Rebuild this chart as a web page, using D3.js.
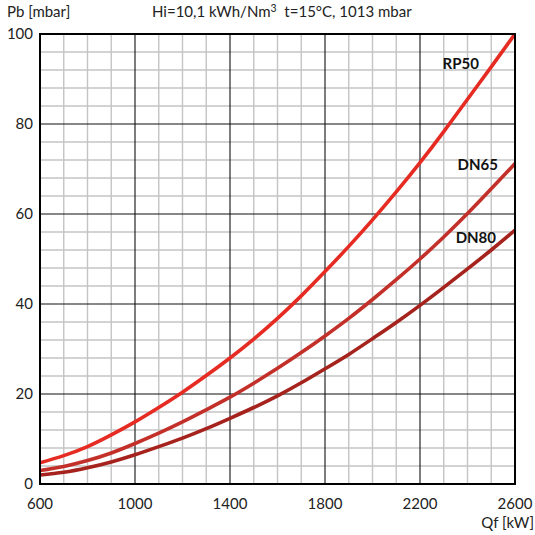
<!DOCTYPE html>
<html>
<head>
<meta charset="utf-8">
<script src="https://cdn.jsdelivr.net/npm/d3@7"></script>
<style>
  html, body { margin: 0; padding: 0; background: #fff; }
  svg { display: block; font-family: "Lato", "Open Sans", sans-serif; }
</style>
</head>
<body>
<svg id="chart" width="535" height="535"></svg>
<script>
// ---- data ----
const qf = [600, 700, 800, 900, 1000, 1100, 1200, 1300, 1400, 1500, 1600,
            1700, 1800, 1900, 2000, 2100, 2200, 2300, 2400, 2500, 2600];
const rp50 = [4.7, 6.3, 8.3, 10.9, 13.8, 17.0, 20.4, 24.1, 28.0, 32.2, 36.8,
              41.8, 47.2, 52.8, 58.7, 64.9, 71.4, 78.3, 85.5, 92.7, 100];
const dn65 = [3.0, 3.9, 5.2, 6.9, 9.0, 11.3, 13.8, 16.5, 19.3, 22.4, 25.7,
              29.2, 32.9, 36.8, 41.0, 45.4, 50.0, 54.9, 60.1, 65.6, 71.2];
const dn80 = [2.0, 2.6, 3.6, 4.9, 6.5, 8.3, 10.2, 12.3, 14.6, 17.0, 19.6,
              22.5, 25.6, 28.8, 32.3, 35.9, 39.7, 43.7, 47.8, 52.0, 56.4];

// label anchor: right end of text [Qf, Pb of baseline]
const series = [
  { name: "RP50", values: rp50, color: "#e52b22", label: [2448, 92.2] },
  { name: "DN65", values: dn65, color: "#c3302a", label: [2528, 69.8] },
  { name: "DN80", values: dn80, color: "#a5231c", label: [2520, 53.6] }
];

const xTicks = [600, 1000, 1400, 1800, 2200, 2600];
const yTicks = [0, 20, 40, 60, 80, 100];

// ---- layout ----
const svg = d3.select("#chart");
const m = { left: 40, right: 515, top: 34, bottom: 484 };

const x = d3.scaleLinear().domain([600, 2600]).range([m.left, m.right]);
const y = d3.scaleLinear().domain([0, 100]).range([m.bottom, m.top]);

// grid: minor
const g = svg.append("g");
g.selectAll("line.vx").data(d3.range(700, 2600, 100).filter(v => (v - 600) % 400 !== 0))
  .enter().append("line")
  .attr("x1", d => x(d)).attr("x2", d => x(d))
  .attr("y1", m.top).attr("y2", m.bottom)
  .attr("stroke", "#c4c4c4").attr("stroke-width", 1.4);
g.selectAll("line.hy").data(d3.range(4, 100, 4).filter(v => v % 20 !== 0))
  .enter().append("line")
  .attr("x1", m.left).attr("x2", m.right)
  .attr("y1", d => y(d)).attr("y2", d => y(d))
  .attr("stroke", "#c4c4c4").attr("stroke-width", 1.4);

// grid: major
g.selectAll("line.mx").data(xTicks.slice(1, -1))
  .enter().append("line")
  .attr("x1", d => x(d)).attr("x2", d => x(d))
  .attr("y1", m.top).attr("y2", m.bottom)
  .attr("stroke", "#111").attr("stroke-width", 1.1);
g.selectAll("line.my").data(yTicks.slice(1, -1))
  .enter().append("line")
  .attr("x1", m.left).attr("x2", m.right)
  .attr("y1", d => y(d)).attr("y2", d => y(d))
  .attr("stroke", "#111").attr("stroke-width", 1.1);

// curves
svg.append("clipPath").attr("id", "clip").append("rect")
  .attr("x", m.left).attr("y", m.top)
  .attr("width", m.right - m.left).attr("height", m.bottom - m.top);

const line = d3.line()
  .x((d, i) => x(qf[i]))
  .y(d => y(d))
  .curve(d3.curveNatural);

svg.append("g").attr("clip-path", "url(#clip)")
  .selectAll("path").data(series).enter().append("path")
  .attr("d", d => line(d.values))
  .attr("fill", "none")
  .attr("stroke", d => d.color)
  .attr("stroke-width", 3.6)
  .attr("stroke-linecap", "round");

// frame
svg.append("rect")
  .attr("x", m.left).attr("y", m.top)
  .attr("width", m.right - m.left).attr("height", m.bottom - m.top)
  .attr("fill", "none").attr("stroke", "#000").attr("stroke-width", 2);

// curve labels
svg.selectAll("text.lbl").data(series).enter().append("text")
  .attr("x", d => x(d.label[0]))
  .attr("y", d => y(d.label[1]))
  .attr("text-anchor", "end")
  .attr("font-size", 15).attr("font-weight", "bold").attr("fill", "#111")
  .text(d => d.name);

// axis ticks
svg.selectAll("text.xt").data(xTicks).enter().append("text")
  .attr("x", d => x(d)).attr("y", 509)
  .attr("text-anchor", "middle")
  .attr("font-size", 15).attr("fill", "#222")
  .text(d => d);

svg.selectAll("text.yt").data(yTicks).enter().append("text")
  .attr("x", 33).attr("y", d => y(d) + 5)
  .attr("text-anchor", "end")
  .attr("font-size", 15).attr("fill", "#222")
  .text(d => d);

// titles
svg.append("text").attr("x", 7).attr("y", 17)
  .attr("font-size", 15).attr("fill", "#222")
  .text("Pb [mbar]");

const ttl = svg.append("text").attr("x", 152).attr("y", 17)
  .attr("font-size", 15).attr("fill", "#222");
ttl.append("tspan").text("Hi=10,1 kWh/Nm");
ttl.append("tspan").attr("dy", -5).attr("font-size", 10.5).text("3");
ttl.append("tspan").attr("dy", 5).text("\u00a0 t=15°C, 1013 mbar");

svg.append("text").attr("x", 534).attr("y", 528)
  .attr("text-anchor", "end")
  .attr("font-size", 15).attr("fill", "#222")
  .text("Qf [kW]");
</script>
</body>
</html>
